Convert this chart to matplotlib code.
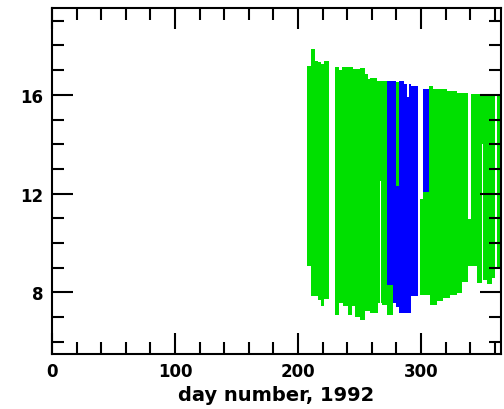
import numpy as np
import matplotlib
matplotlib.use('Agg')
import matplotlib.pyplot as plt
from matplotlib.ticker import MultipleLocator

# daily ranges, grouped in runs of days (start day, end day, low, high)
green_start = [207.5, 210.5, 214.0, 216.5, 219.0, 221.5,
               230.0, 233.0, 235.5, 237.0, 241.0, 243.6, 245.0, 246.3, 250.4,
               254.4, 257.0, 258.5, 264.5, 265.3, 266.4, 267.4, 268.0,
               272.6, 299.2, 301.6, 306.8, 307.3, 310.0, 312.8, 318.2, 321.0,
               323.6, 329.0, 333.1, 338.3,
               340.8, 345.3, 349.3, 350.6, 353.4, 357.5, 362.0]
green_end = [210.5, 214.0, 216.5, 219.0, 221.5, 225.5,
             233.0, 235.5, 237.0, 241.0, 243.6, 245.0, 246.3, 250.4, 254.4,
             257.0, 258.5, 264.5, 265.3, 266.4, 267.4, 268.0, 272.6,
             277.6, 301.6, 306.8, 307.3, 310.0, 312.8, 318.2, 321.0, 323.6,
             329.0, 333.1, 338.3, 340.8,
             345.3, 349.3, 350.6, 353.4, 357.5, 360.2, 365.0]
green_low = [9.05, 7.84, 7.84, 7.68, 7.43, 7.71,
             7.10, 7.57, 7.57, 7.43, 7.10, 7.43, 7.43, 7.00, 6.89,
             7.23, 7.23, 7.18, 7.18, 7.57, 12.52, 7.57, 7.50,
             7.10, 7.91, 7.91, 7.91, 7.50, 7.50, 7.64, 7.78, 7.78,
             7.91, 7.99, 8.40, 9.06,
             9.06, 8.39, 14.0, 8.52, 8.32, 8.60, 8.93]
green_high = [17.17, 17.84, 17.39, 17.33, 17.26, 17.39,
              17.13, 16.99, 17.13, 17.13, 17.13, 17.13, 17.03, 17.03, 17.10,
              16.85, 16.65, 16.69, 16.58, 16.58, 16.58, 16.58, 16.58,
              8.40, 11.80, 12.07, 16.35, 16.35, 16.24, 16.24, 16.24, 16.17,
              16.17, 16.08, 16.08, 10.96,
              16.04, 16.04, 16.04, 16.04, 16.04, 16.02, 16.00]

blue_start = [272.6, 277.6, 280.0, 282.2, 286.2, 288.9, 290.5, 292.0, 297.4, 301.6]
blue_end = [277.6, 280.0, 282.2, 286.2, 288.9, 290.5, 292.0, 297.4, 297.9, 306.8]
blue_low = [8.30, 7.55, 7.40, 7.17, 7.17, 7.17, 7.17, 7.84, 8.25, 12.07]
blue_high = [16.58, 16.58, 12.31, 16.58, 16.45, 15.92, 16.45, 16.35, 16.35, 16.24]

# thin green run drawn over the blue block
sliver_start = [280.0]
sliver_end = [282.2]
sliver_low = [12.31]
sliver_high = [16.52]

green = '#00e000'
blue = '#0000ff'

fig = plt.figure(figsize=(5.04, 4.10), dpi=100)
ax = fig.add_axes([0.103, 0.134, 0.891, 0.843])


def draw_runs(start, end, low, high, colour):
    start = np.array(start)
    low = np.array(low)
    ax.bar(start, np.array(high) - low, width=np.array(end) - start, bottom=low,
           align='edge', color=colour, linewidth=0, antialiased=False)


draw_runs(green_start, green_end, green_low, green_high, green)
draw_runs(blue_start, blue_end, blue_low, blue_high, blue)
draw_runs(sliver_start, sliver_end, sliver_low, sliver_high, green)

ax.set_xlim(0, 365)
ax.set_ylim(5.5, 19.5)
ax.xaxis.set_major_locator(MultipleLocator(100))
ax.xaxis.set_minor_locator(MultipleLocator(20))
ax.yaxis.set_major_locator(MultipleLocator(4))
ax.yaxis.set_minor_locator(MultipleLocator(1))
ax.set_yticks([8, 12, 16])

ax.tick_params(which='both', direction='in', top=True, right=True, width=1.5,
               color='black')
ax.tick_params(which='major', length=15, labelsize=12, pad=6)
ax.tick_params(which='minor', length=8.5)
for lab in ax.get_xticklabels() + ax.get_yticklabels():
    lab.set_fontweight('bold')
for sp in ax.spines.values():
    sp.set_linewidth(1.5)

ax.set_xlabel('day number, 1992', fontsize=14, fontweight='bold', labelpad=3)

fig.savefig('out.png', dpi=100)
